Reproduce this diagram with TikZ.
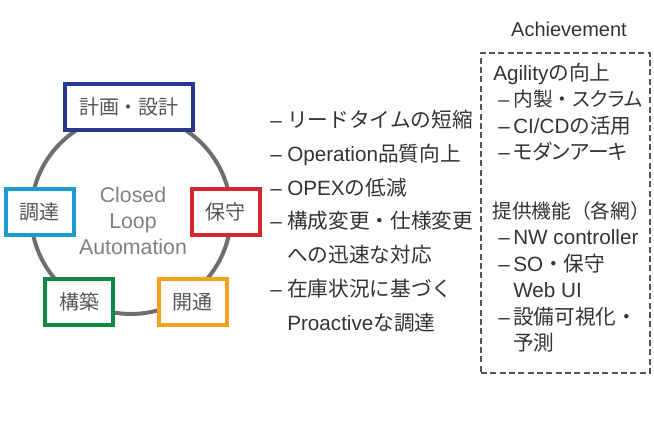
\documentclass[tikz,border=0pt]{standalone}
\usepackage{fontspec}
\setmainfont{Liberation Sans}
\newfontfamily\jp{Noto Sans CJK JP}
\newfontfamily\jpp{Noto Sans CJK JP}[RawFeature=+palt]
\definecolor{maintext}{HTML}{333333}
\definecolor{boxtext}{HTML}{555555}
\definecolor{looptext}{HTML}{808080}
\definecolor{ringgray}{HTML}{6E6E6E}
\definecolor{cplan}{HTML}{26398C}
\definecolor{cproc}{HTML}{1B9AD2}
\definecolor{cmaint}{HTML}{D4262F}
\definecolor{cbuild}{HTML}{0E8A46}
\definecolor{copen}{HTML}{F4A11E}
\definecolor{framegray}{HTML}{555555}
\begin{document}
\begin{tikzpicture}[x=0.75pt,y=-0.75pt,
  stage/.style={draw, line width=3pt, fill=white, minimum height=34.5pt, minimum width=51pt, inner sep=0pt, text=boxtext, font=\jp\fontsize{15}{18}\selectfont},
  item/.style={anchor=base west, inner sep=0pt, text=maintext, font=\fontsize{15.5}{18}\selectfont},
  smallitem/.style={item, font=\fontsize{14.8}{18}\selectfont},
  looplabel/.style={anchor=base, inner sep=0pt, text=looptext, font=\fontsize{16}{19}\selectfont},
  framebox/.style={draw=framegray, line width=1pt, dash pattern=on 4.5pt off 2.5pt, inner sep=0pt}]
\useasboundingbox (0,0) rectangle (654,425);
% ring
\node[circle, draw=ringgray, line width=3pt, minimum size=150pt, inner sep=0pt] (loop) at (131,214) {};
\node[looplabel] (cl1) at (133,202) {Closed};
\node[looplabel] (cl2) at (133,228) {Loop};
\node[looplabel] (cl3) at (133,254) {Automation};
% stages
\node[stage, draw=cplan, minimum width=96pt] (plan) at (129,107) {計画・設計};
\node[stage, draw=cproc] (proc) at (40,212) {調達};
\node[stage, draw=cmaint] (maint) at (225.5,212) {保守};
\node[stage, draw=cbuild] (build) at (79,302) {構築};
\node[stage, draw=copen] (open) at (192.5,302) {開通};
% middle list
\node[item] (m1) at (270,127.5) {\makebox[12.75pt][l]{–}{\jp リードタイムの短縮}};
\node[item] (m2) at (270,161.3) {\makebox[12.75pt][l]{–}Operation{\jp 品質向上}};
\node[item] (m3) at (270,195.1) {\makebox[12.75pt][l]{–}OPEX{\jp の低減}};
\node[item] (m4) at (270,228.9) {\makebox[12.75pt][l]{–}{\jp 構成変更・仕様変更}};
\node[item] (m5) at (287,262.7) {{\jp への迅速な対応}};
\node[item] (m6) at (270,296.5) {\makebox[12.75pt][l]{–}{\jp 在庫状況に基づく}};
\node[item] (m7) at (287,330.3) {Proactive{\jp な調達}};
% achievement
\node[item, anchor=base, font=\fontsize{15}{18}\selectfont] (ach) at (569,36) {Achievement};
\node[framebox, minimum width=126.75pt, minimum height=240pt] (frame) at (565.5,213) {};
\node[item] (r1) at (493,80) {Agility{\jp の向上}};
\node[smallitem] (r2) at (498,106.5) {\makebox[11.25pt][l]{–}{\jp 内製・}{\jpp スクラム}};
\node[item] (r3) at (498,133) {\makebox[11.25pt][l]{–}CI/CD{\jp の活用}};
\node[item] (r4) at (498,159.5) {\makebox[11.25pt][l]{–}{\jpp モダンアーキ}};
\node[smallitem] (r5) at (492,218) {{\jp 提供機能（各網）}};
\node[item] (r6) at (498,244.5) {\makebox[11.25pt][l]{–}NW controller};
\node[item] (r7) at (498,271) {\makebox[11.25pt][l]{–}SO{\jp ・保守}};
\node[item] (r8) at (513,297.5) {Web UI};
\node[item] (r9) at (498,324) {\makebox[11.25pt][l]{–}{\jp 設備可視化・}};
\node[item] (r10) at (513,350.5) {{\jp 予測}};
\end{tikzpicture}
\end{document}
